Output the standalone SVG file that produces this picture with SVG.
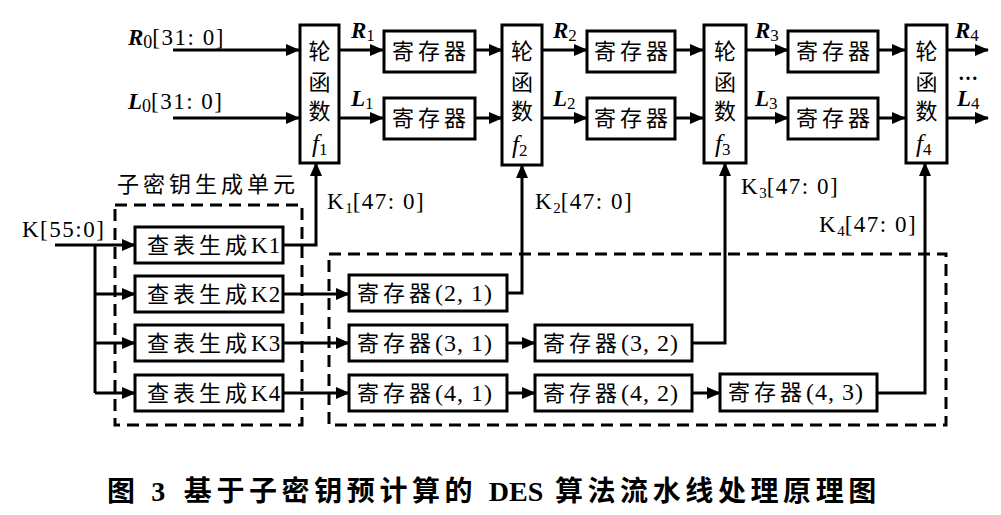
<svg xmlns="http://www.w3.org/2000/svg" width="1001" height="515" viewBox="0 0 1001 515">
<style>
.box{fill:#fff;stroke:#000;stroke-width:3}
.dash{fill:none;stroke:#000;stroke-width:3;stroke-dasharray:12 7}
.ln{fill:none;stroke:#000;stroke-width:3}
.cj{font-family:"Noto Sans CJK SC","Noto Sans CJK JP",sans-serif;font-size:22px;fill:#000}
.sf{font-family:"Liberation Serif",serif;fill:#000}
.lab{font-family:"Liberation Serif",serif;font-size:23px;fill:#000;letter-spacing:1.5px}
.var{font-family:"Liberation Serif",serif;font-style:italic;font-weight:bold;font-size:23px;fill:#000}
</style>
<defs>
<marker id="ah" markerUnits="userSpaceOnUse" markerWidth="14" markerHeight="12" refX="13" refY="6" orient="auto">
<path d="M0,0 L14,6 L0,12 Z" fill="#000"/>
</marker>
</defs>

<g id="connectors">
<path class="ln" d="M173,50 H299" marker-end="url(#ah)"/>
<path class="ln" d="M173,118 H299" marker-end="url(#ah)"/>
<path class="ln" d="M340,50 H383" marker-end="url(#ah)"/>
<path class="ln" d="M340,118 H383" marker-end="url(#ah)"/>
<path class="ln" d="M475,50 H502" marker-end="url(#ah)"/>
<path class="ln" d="M475,118 H502" marker-end="url(#ah)"/>
<path class="ln" d="M543,50 H587" marker-end="url(#ah)"/>
<path class="ln" d="M543,118 H587" marker-end="url(#ah)"/>
<path class="ln" d="M675,50 H703" marker-end="url(#ah)"/>
<path class="ln" d="M675,118 H703" marker-end="url(#ah)"/>
<path class="ln" d="M747,50 H788" marker-end="url(#ah)"/>
<path class="ln" d="M747,118 H788" marker-end="url(#ah)"/>
<path class="ln" d="M878,50 H905" marker-end="url(#ah)"/>
<path class="ln" d="M878,118 H905" marker-end="url(#ah)"/>
<path class="ln" d="M947,50 H988" marker-end="url(#ah)"/>
<path class="ln" d="M947,118 H988" marker-end="url(#ah)"/>

<path class="ln" d="M55,245 H135" marker-end="url(#ah)"/>
<path class="ln" d="M95,245 V393"/>
<path class="ln" d="M95,294 H135" marker-end="url(#ah)"/>
<path class="ln" d="M95,343 H135" marker-end="url(#ah)"/>
<path class="ln" d="M95,393 H135" marker-end="url(#ah)"/>
<path class="ln" d="M283,245 H316 V163" marker-end="url(#ah)"/>
<path class="ln" d="M283,294 H349" marker-end="url(#ah)"/>
<path class="ln" d="M283,343 H349" marker-end="url(#ah)"/>
<path class="ln" d="M283,393 H349" marker-end="url(#ah)"/>
<path class="ln" d="M507,293 H522 V165" marker-end="url(#ah)"/>
<path class="ln" d="M507,343 H535" marker-end="url(#ah)"/>
<path class="ln" d="M692,343 H725 V163" marker-end="url(#ah)"/>
<path class="ln" d="M507,393 H535" marker-end="url(#ah)"/>
<path class="ln" d="M692,393 H720" marker-end="url(#ah)"/>
<path class="ln" d="M877,393 H925 V163" marker-end="url(#ah)"/>
</g>

<g id="subkey-unit">
<rect class="dash" x="115" y="205" width="187" height="220"/>
<text class="cj" x="208" y="192" text-anchor="middle" letter-spacing="4">子密钥生成单元</text>
</g>
<g id="pipeline-regs-area">
<rect class="dash" x="329" y="254" width="617" height="171"/>
</g>

<g id="labels">
<text x="128" y="45"><tspan class="var">R</tspan><tspan class="sf" font-size="18" dy="3">0</tspan><tspan class="lab" dy="-3">[31: 0]</tspan></text>
<text x="128" y="109"><tspan class="var">L</tspan><tspan class="sf" font-size="18" dy="3">0</tspan><tspan class="lab" dy="-3">[31: 0]</tspan></text>
<text x="351" y="38"><tspan class="var">R</tspan><tspan class="sf" font-size="17" dy="3">1</tspan></text>
<text x="351" y="106"><tspan class="var">L</tspan><tspan class="sf" font-size="17" dy="3">1</tspan></text>
<text x="553" y="38"><tspan class="var">R</tspan><tspan class="sf" font-size="17" dy="3">2</tspan></text>
<text x="553" y="106"><tspan class="var">L</tspan><tspan class="sf" font-size="17" dy="3">2</tspan></text>
<text x="755" y="38"><tspan class="var">R</tspan><tspan class="sf" font-size="17" dy="3">3</tspan></text>
<text x="755" y="106"><tspan class="var">L</tspan><tspan class="sf" font-size="17" dy="3">3</tspan></text>
<text x="955" y="38"><tspan class="var">R</tspan><tspan class="sf" font-size="17" dy="3">4</tspan></text>
<text x="957" y="106"><tspan class="var">L</tspan><tspan class="sf" font-size="17" dy="3">4</tspan></text>
<text class="sf" x="958" y="80" font-size="20" font-weight="bold">…</text>
<text class="lab" x="22" y="237" letter-spacing="3">K[55:0]</text>
<text x="327" y="209"><tspan class="lab">K</tspan><tspan class="sf" font-size="15" dy="4">1</tspan><tspan class="lab" dy="-4">[47: 0]</tspan></text>
<text x="535" y="209"><tspan class="lab">K</tspan><tspan class="sf" font-size="15" dy="4">2</tspan><tspan class="lab" dy="-4">[47: 0]</tspan></text>
<text x="741" y="194"><tspan class="lab">K</tspan><tspan class="sf" font-size="15" dy="4">3</tspan><tspan class="lab" dy="-4">[47: 0]</tspan></text>
<text x="819" y="232"><tspan class="lab">K</tspan><tspan class="sf" font-size="15" dy="4">4</tspan><tspan class="lab" dy="-4">[47: 0]</tspan></text>
</g>

<g id="f1">
<rect class="box" x="300" y="25" width="39" height="138"/>
<text class="cj" x="319.5" y="59" text-anchor="middle">轮</text>
<text class="cj" x="319.5" y="90" text-anchor="middle">函</text>
<text class="cj" x="319.5" y="119" text-anchor="middle">数</text>
<text x="312" y="152"><tspan class="sf" font-style="italic" font-size="25">f</tspan><tspan class="sf" font-size="17" dy="3">1</tspan></text>
</g>
<g id="f2">
<rect class="box" x="502" y="25" width="40" height="140"/>
<text class="cj" x="522" y="59" text-anchor="middle">轮</text>
<text class="cj" x="522" y="90" text-anchor="middle">函</text>
<text class="cj" x="522" y="119" text-anchor="middle">数</text>
<text x="512" y="153"><tspan class="sf" font-style="italic" font-size="25">f</tspan><tspan class="sf" font-size="17" dy="3">2</tspan></text>
</g>
<g id="f3">
<rect class="box" x="704" y="25" width="42" height="138"/>
<text class="cj" x="725" y="59" text-anchor="middle">轮</text>
<text class="cj" x="725" y="90" text-anchor="middle">函</text>
<text class="cj" x="725" y="119" text-anchor="middle">数</text>
<text x="715" y="152"><tspan class="sf" font-style="italic" font-size="25">f</tspan><tspan class="sf" font-size="17" dy="3">3</tspan></text>
</g>
<g id="f4">
<rect class="box" x="906" y="25" width="41" height="138"/>
<text class="cj" x="926.5" y="59" text-anchor="middle">轮</text>
<text class="cj" x="926.5" y="90" text-anchor="middle">函</text>
<text class="cj" x="926.5" y="119" text-anchor="middle">数</text>
<text x="916" y="152"><tspan class="sf" font-style="italic" font-size="25">f</tspan><tspan class="sf" font-size="17" dy="3">4</tspan></text>
</g>

<g id="regR1"><rect class="box" x="384" y="31" width="91" height="41"/><text class="cj" x="431" y="59" text-anchor="middle" letter-spacing="4">寄存器</text></g>
<g id="regL1"><rect class="box" x="384" y="98" width="91" height="41"/><text class="cj" x="431" y="126" text-anchor="middle" letter-spacing="4">寄存器</text></g>
<g id="regR2"><rect class="box" x="587" y="31" width="88" height="41"/><text class="cj" x="633" y="59" text-anchor="middle" letter-spacing="4">寄存器</text></g>
<g id="regL2"><rect class="box" x="587" y="98" width="88" height="41"/><text class="cj" x="633" y="126" text-anchor="middle" letter-spacing="4">寄存器</text></g>
<g id="regR3"><rect class="box" x="788" y="31" width="90" height="41"/><text class="cj" x="835" y="59" text-anchor="middle" letter-spacing="4">寄存器</text></g>
<g id="regL3"><rect class="box" x="788" y="98" width="90" height="41"/><text class="cj" x="835" y="126" text-anchor="middle" letter-spacing="4">寄存器</text></g>

<g id="genK1"><rect class="box" x="135" y="227" width="148" height="36"/><text class="cj" x="147" y="253" letter-spacing="4">查表生成<tspan class="sf" font-size="23" letter-spacing="1">K1</tspan></text></g>
<g id="genK2"><rect class="box" x="135" y="276" width="148" height="36"/><text class="cj" x="147" y="302" letter-spacing="4">查表生成<tspan class="sf" font-size="23" letter-spacing="1">K2</tspan></text></g>
<g id="genK3"><rect class="box" x="135" y="325" width="148" height="36"/><text class="cj" x="147" y="351" letter-spacing="4">查表生成<tspan class="sf" font-size="23" letter-spacing="1">K3</tspan></text></g>
<g id="genK4"><rect class="box" x="135" y="375" width="148" height="36"/><text class="cj" x="147" y="401" letter-spacing="4">查表生成<tspan class="sf" font-size="23" letter-spacing="1">K4</tspan></text></g>

<g id="reg21"><rect class="box" x="349" y="275" width="158" height="36"/><text class="cj" x="357" y="301" letter-spacing="4">寄存器<tspan class="sf" font-size="24" letter-spacing="1">(2, 1)</tspan></text></g>
<g id="reg31"><rect class="box" x="349" y="325" width="158" height="36"/><text class="cj" x="357" y="351" letter-spacing="4">寄存器<tspan class="sf" font-size="24" letter-spacing="1">(3, 1)</tspan></text></g>
<g id="reg32"><rect class="box" x="535" y="325" width="157" height="36"/><text class="cj" x="543" y="351" letter-spacing="4">寄存器<tspan class="sf" font-size="24" letter-spacing="1">(3, 2)</tspan></text></g>
<g id="reg41"><rect class="box" x="349" y="375" width="158" height="36"/><text class="cj" x="357" y="401" letter-spacing="4">寄存器<tspan class="sf" font-size="24" letter-spacing="1">(4, 1)</tspan></text></g>
<g id="reg42"><rect class="box" x="535" y="375" width="157" height="36"/><text class="cj" x="543" y="401" letter-spacing="4">寄存器<tspan class="sf" font-size="24" letter-spacing="1">(4, 2)</tspan></text></g>
<g id="reg43"><rect class="box" x="720" y="374" width="157" height="37"/><text class="cj" x="728" y="400" letter-spacing="4">寄存器<tspan class="sf" font-size="24" letter-spacing="1">(4, 3)</tspan></text></g>

<g id="caption">
<text x="107" y="501" font-family="'Liberation Serif','Noto Sans CJK SC',serif" font-size="28" font-weight="bold" letter-spacing="4.6">图 3<tspan dx="14">基于子密钥预计算的 </tspan><tspan letter-spacing="0">DES</tspan><tspan> 算法流水线处理原理图</tspan></text>
</g>
</svg>
